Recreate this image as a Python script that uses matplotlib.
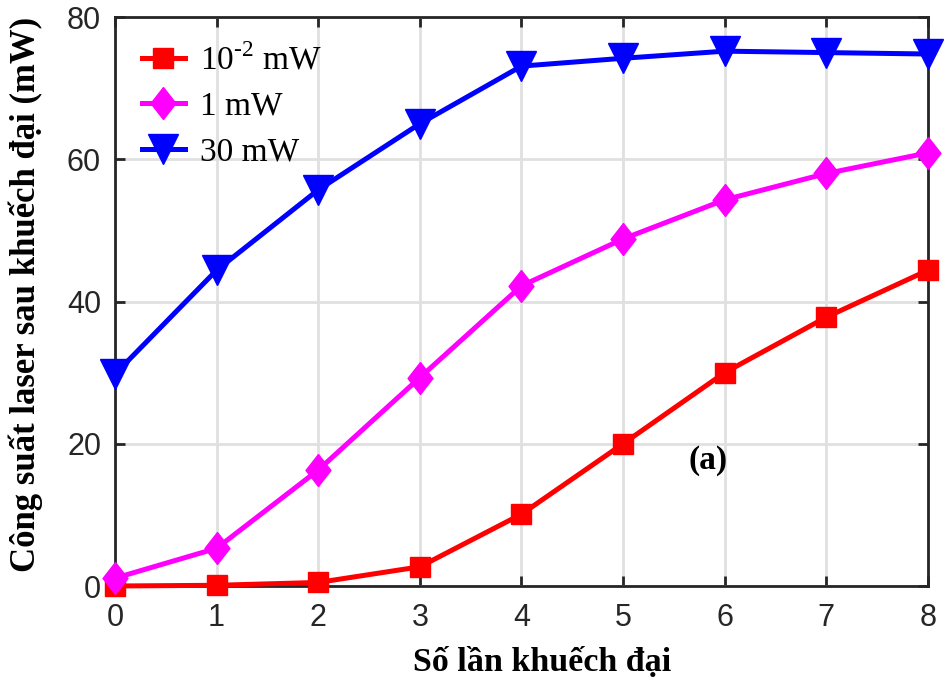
import matplotlib

matplotlib.use("Agg")
import matplotlib.pyplot as plt

# Number of amplification passes
passes = [0, 1, 2, 3, 4, 5, 6, 7, 8]

# Output laser power (mW) for each seed power
p_001mw = [0.0, 0.1, 0.5, 2.7, 10.1, 20.0, 30.0, 37.8, 44.4]
p_1mw = [1.1, 5.3, 16.3, 29.3, 42.2, 48.8, 54.3, 58.0, 60.9]
p_30mw = [29.8, 44.4, 55.7, 65.0, 73.1, 74.2, 75.2, 75.0, 74.8]

labels = [r"10$^{\text{-2}}$ mW", "1 mW", "30 mW"]

SERIF = ["Liberation Serif", "DejaVu Serif"]
SANS = ["Liberation Sans", "DejaVu Sans"]

plt.rcParams["mathtext.fontset"] = "custom"
plt.rcParams["mathtext.rm"] = "Liberation Serif"

# slightly tall diamond, like the original
diamond = [(0, 1), (0.78, 0), (0, -1), (-0.78, 0), (0, 1)]

fig = plt.figure(figsize=(9.44, 6.81), dpi=100)
ax = fig.add_axes([0.1218, 0.1395, 0.8612, 0.8355])

ax.plot(passes, p_001mw, color="#ff0000", marker="s", markersize=15,
        linewidth=3.6, label=labels[0], clip_on=False, zorder=3)
ax.plot(passes, p_1mw, color="#ff00ff", marker=diamond, markersize=23,
        linewidth=3.6, label=labels[1], clip_on=False, zorder=3)
ax.plot(passes, p_30mw, color="#0000ff", marker="v", markersize=22,
        linewidth=3.6, label=labels[2], clip_on=False, zorder=3)

ax.set_xlim(0, 8)
ax.set_ylim(0, 80)
ax.set_xticks(passes)
ax.set_yticks([0, 20, 40, 60, 80])
ax.grid(True, color="#e0e0e0", linewidth=2)
ax.set_axisbelow(True)

ax.tick_params(direction="in", length=7, width=2, top=True, right=True,
               labelsize=22, colors="#262626")
ax.tick_params(axis="x", pad=12)
ax.tick_params(axis="y", pad=10)
for lab in ax.get_xticklabels() + ax.get_yticklabels():
    lab.set_family(SANS)
for sp in ax.spines.values():
    sp.set_linewidth(2)
    sp.set_color("#262626")

ax.set_xlabel("Số lần khuếch đại", family=SERIF, fontweight="bold",
              fontsize=24.5)
ax.xaxis.set_label_coords(0.525, -0.108)
ax.set_ylabel("Công suất laser sau khuếch đại (mW)", family=SERIF,
              fontweight="bold", fontsize=25)
ax.yaxis.set_label_coords(-0.088, 0.512)

ax.text(5.84, 17.7, "(a)", family=SERIF, fontweight="bold", fontsize=24,
        ha="center", va="center")

leg = ax.legend(loc="upper left", frameon=False, prop={"family": SERIF, "size": 24},
                handlelength=1.3, labelspacing=0.45, borderaxespad=0.3,
                handletextpad=0.45, borderpad=0.5)

fig.savefig("out.png", dpi=100)
